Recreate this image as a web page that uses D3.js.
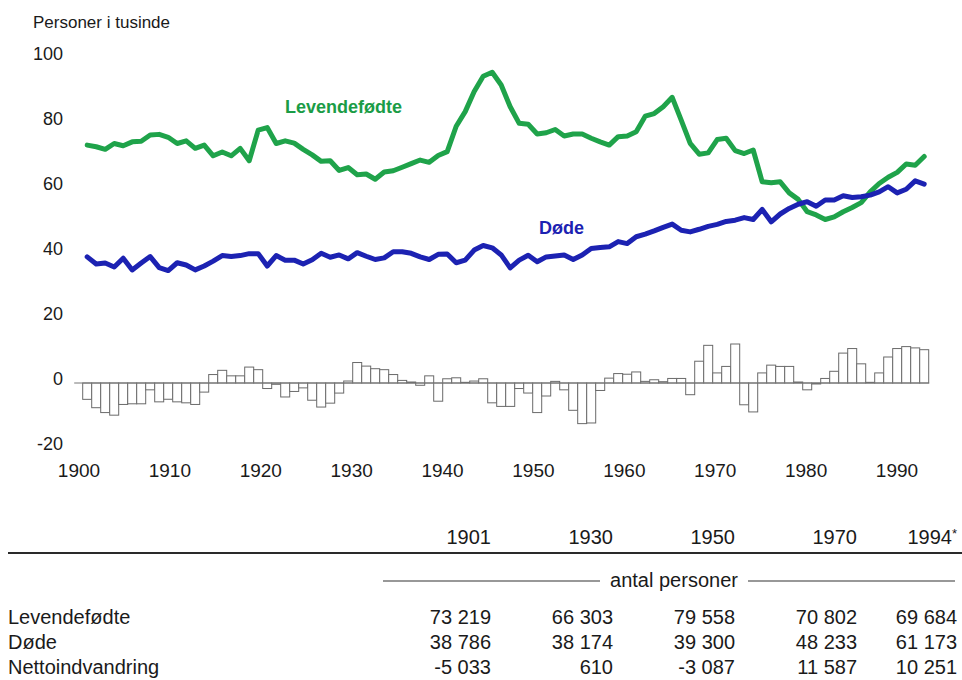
<!DOCTYPE html>
<html><head><meta charset="utf-8">
<script src="https://cdn.jsdelivr.net/npm/d3@7"></script>
<style>
html,body{margin:0;padding:0;background:#fff;}
svg{display:block;}
text{font-family:"Liberation Sans", Arial, "DejaVu Sans", sans-serif; fill:#1a1a1a;}
</style></head><body>
<svg id="chart" width="962" height="680"></svg>
<script>
// ---------- data (thousands of persons) ----------
const years = d3.range(1901, 1995);
const births = [
  73.2, 72.7, 71.9, 73.7, 73.0, 74.2, 74.4, 76.3, 76.5, 75.6,
  73.7, 74.5, 72.2, 73.2, 69.9, 71.1, 69.9, 72.2, 68.4, 77.8,
  78.6, 73.7, 74.5, 73.8, 71.9, 70.2, 68.2, 68.4, 65.4, 66.3,
  64.1, 64.3, 62.7, 64.9, 65.3, 66.4, 67.5, 68.6, 67.9, 70.0,
  71.2, 79.0, 83.5, 89.7, 94.4, 95.6, 91.7, 85.0, 79.9, 79.6,
  76.6, 77.0, 78.0, 76.0, 76.6, 76.6, 75.3, 74.2, 73.2, 75.8,
  76.0, 77.3, 82.1, 82.9, 85.0, 87.9, 80.9, 73.7, 70.4, 70.8,
  74.9, 75.3, 71.5, 70.6, 71.7, 61.9, 61.6, 61.9, 58.5, 56.5,
  52.7, 51.7, 50.3, 51.1, 52.7, 54.0, 55.5, 58.8, 61.4, 63.3,
  64.8, 67.4, 67.0, 69.7
];
const deaths = [
  38.8, 36.6, 36.9, 35.7, 38.4, 34.8, 36.9, 38.9, 35.5, 34.6,
  37.0, 36.3, 34.8, 36.0, 37.5, 39.2, 38.9, 39.2, 39.8, 39.8,
  36.0, 39.2, 37.8, 37.8, 36.6, 37.9, 39.9, 38.7, 39.4, 38.2,
  40.1, 39.0, 38.0, 38.5, 40.4, 40.4, 39.9, 38.8, 38.0, 39.6,
  39.7, 37.0, 37.8, 40.9, 42.3, 41.6, 39.4, 35.4, 37.8, 39.3,
  37.3, 38.8, 39.1, 39.4, 38.0, 39.4, 41.4, 41.7, 41.9, 43.5,
  42.9, 45.0, 45.8, 46.8, 47.9, 48.9, 47.0, 46.5, 47.3, 48.2,
  48.8, 49.7, 50.1, 50.9, 50.3, 53.4, 49.6, 52.0, 53.7, 55.0,
  55.8, 54.4, 56.3, 56.3, 57.6, 57.1, 57.3, 57.8, 58.8, 60.4,
  58.5, 59.6, 62.2, 61.2
];
const netMigration = [
  -5.03, -7.6, -9.1, -9.9, -6.6, -6.4, -6.4, -2.1, -5.8, -5.0,
  -5.8, -6.1, -6.6, -2.8, 2.6, 3.9, 2.2, 2.2, 4.9, 4.1,
  -1.7, -0.4, -4.3, -2.6, -1.5, -5.3, -7.4, -6.2, -3.1, 0.61,
  6.3, 5.2, 4.4, 4.1, 2.6, 0.8, 0.3, -0.7, 2.2, -5.6,
  1.3, 1.6, 0.2, 0.6, 1.3, -6.1, -7.2, -7.2, -1.7, -3.09,
  -9.1, -4.0, 0.5, -2.1, -8.4, -12.5, -12.3, -2.3, 1.5, 2.9,
  2.7, 3.4, 0.5, 1.0, 0.4, 1.4, 1.4, -3.6, 6.7, 11.59,
  3.1, 5.1, 12.0, -6.7, -8.9, 3.1, 5.5, 5.1, 5.1, 0.3,
  -2.1, -0.3, 1.4, 3.6, 9.2, 10.6, 5.9, 0.2, 3.1, 8.0,
  10.6, 11.2, 10.8, 10.25
];
const yTicks = [100, 80, 60, 40, 20, 0, -20];
const xTicks = [1900, 1910, 1920, 1930, 1940, 1950, 1960, 1970, 1980, 1990];
const yTitle = "Personer i tusinde";
const seriesLabels = ["Levendefødte", "Døde"];

const tableYears = ["1901", "1930", "1950", "1970", "1994"];
const tableUnit = "antal personer";
const tableRows = ["Levendefødte", "Døde", "Nettoindvandring"];
const tableValues = [
  ["73 219", "66 303", "79 558", "70 802", "69 684"],
  ["38 786", "38 174", "39 300", "48 233", "61 173"],
  ["-5 033", "610", "-3 087", "11 587", "10 251"]
];

// ---------- drawing ----------
const svg = d3.select("#chart");
const GREEN = "#1fa34a", BLUE = "#1c22b2";

const x = d3.scaleLinear().domain([1900, 1994]).range([78.2, 924.2]);
const xAxisScale = d3.scaleLinear().domain([1900, 1990]).range([79, 897]);
const y = d3.scaleLinear().domain([-20, 100]).range([448, 58]);

// title
svg.append("text").attr("x", 33).attr("y", 28).attr("font-size", 17).text(yTitle);

// y tick labels
svg.append("g").selectAll("text").data(yTicks).join("text")
  .attr("x", 63).attr("y", d => y(d) - 4).attr("dy", "0.35em")
  .attr("text-anchor", "end").attr("font-size", 18)
  .text(d => d);

// x tick labels
svg.append("g").selectAll("text").data(xTicks).join("text")
  .attr("x", d => xAxisScale(d)).attr("y", 470).attr("dy", "0.35em")
  .attr("text-anchor", "middle").attr("font-size", 19)
  .text(d => d);

// net migration bars
svg.append("g").selectAll("rect").data(years).join("rect")
  .attr("x", (d) => x(d) - 4.5)
  .attr("width", 9)
  .attr("y", (d, i) => Math.min(y(netMigration[i]), y(0)))
  .attr("height", (d, i) => Math.abs(y(netMigration[i]) - y(0)))
  .attr("fill", "#fff").attr("stroke", "#6a6a6a").attr("stroke-width", 1);

svg.append("line")
  .attr("x1", x(1900) - 4).attr("x2", x(1994) + 5)
  .attr("y1", y(0)).attr("y2", y(0))
  .attr("stroke", "#777").attr("stroke-width", 1);

// lines
const line = d3.line().x(d => x(d[0])).y(d => y(d[1]));
svg.append("path").datum(years.map((yr, i) => [yr, births[i]]))
  .attr("d", line).attr("fill", "none").attr("stroke", GREEN)
  .attr("stroke-width", 5).attr("stroke-linejoin", "round").attr("stroke-linecap", "round");
svg.append("path").datum(years.map((yr, i) => [yr, deaths[i]]))
  .attr("d", line).attr("fill", "none").attr("stroke", BLUE)
  .attr("stroke-width", 5).attr("stroke-linejoin", "round").attr("stroke-linecap", "round");

// series labels
svg.append("text").attr("x", 285).attr("y", 113).attr("font-size", 18)
  .attr("font-weight", "bold").style("fill", "#1a9c46").text(seriesLabels[0]);
svg.append("text").attr("x", 539).attr("y", 234).attr("font-size", 18)
  .attr("font-weight", "bold").style("fill", BLUE).text(seriesLabels[1]);

// ---------- table ----------
const colRight = [491, 613, 735, 857, 957];
const tg = svg.append("g").attr("font-size", 20);
tableYears.forEach((yr, i) => {
  const t = tg.append("text").attr("x", colRight[i]).attr("y", 544).attr("text-anchor", "end");
  t.append("tspan").text(yr);
  if (i === tableYears.length - 1) {
    t.append("tspan").attr("font-size", 13).attr("dy", -6).text("*");
  }
});
tg.append("line").attr("x1", 8).attr("x2", 962).attr("y1", 553).attr("y2", 553)
  .attr("stroke", "#2a2a2a").attr("stroke-width", 2);
tg.append("text").attr("x", 674).attr("y", 587).attr("text-anchor", "middle").text(tableUnit);
tg.append("line").attr("x1", 383).attr("x2", 600).attr("y1", 581).attr("y2", 581)
  .attr("stroke", "#333").attr("stroke-width", 1.2);
tg.append("line").attr("x1", 748).attr("x2", 955).attr("y1", 581).attr("y2", 581)
  .attr("stroke", "#333").attr("stroke-width", 1.2);
tableRows.forEach((r, ri) => {
  const yy = 624 + ri * 25;
  tg.append("text").attr("x", 8).attr("y", yy).text(r);
  tableValues[ri].forEach((v, ci) => {
    tg.append("text").attr("x", colRight[ci]).attr("y", yy).attr("text-anchor", "end").text(v);
  });
});
</script>
</body></html>
